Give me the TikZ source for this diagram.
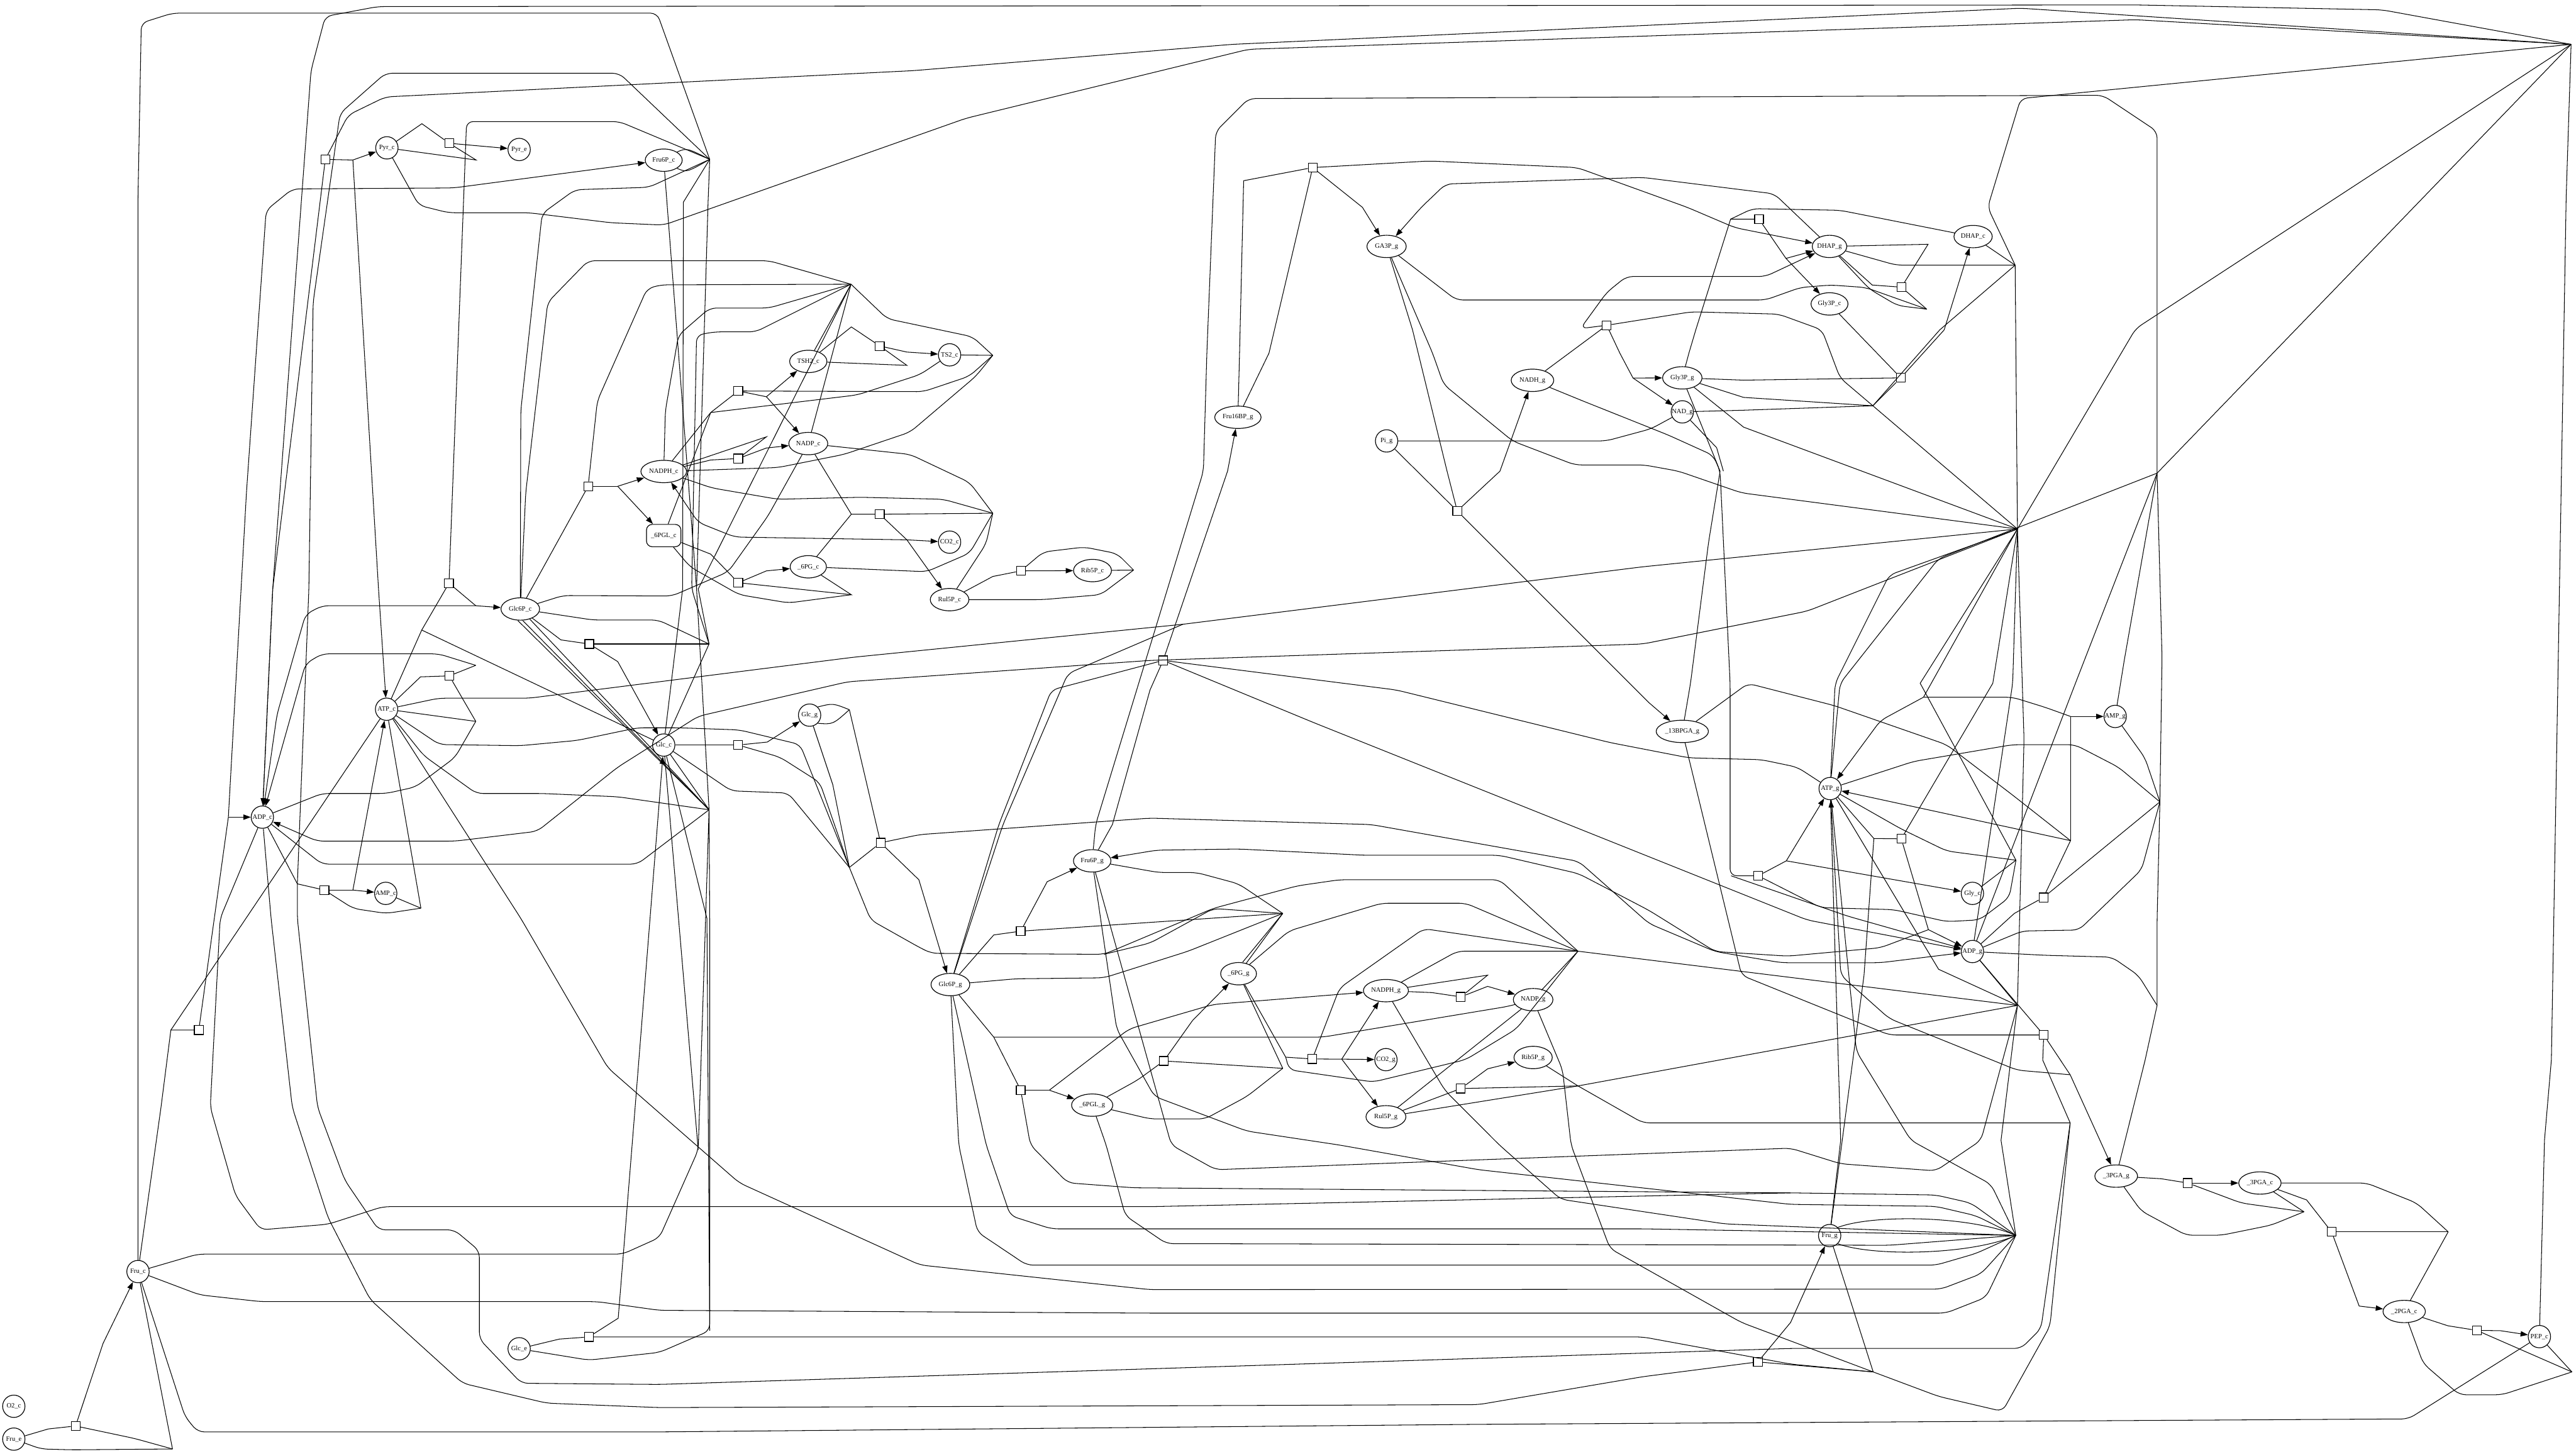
\documentclass[tikz,border=0pt]{standalone}
\usepackage{fontspec}
\setmainfont{Liberation Serif}
\usetikzlibrary{arrows.meta,shapes.geometric}
\newcommand\lab[1]{\makebox[0pt]{#1}}
\begin{document}
\begin{tikzpicture}[x=1mm,y=-1mm,
  sp/.style={draw,ellipse,line width=0.45mm,inner sep=0pt,minimum height=13.6mm,minimum width=#1,font=\fontsize{11.5}{13}\selectfont},
  sp/.default=13.6mm,
  rr/.style={draw,rounded corners=3.5mm,line width=0.45mm,inner sep=0pt,minimum height=13.6mm,minimum width=21mm,font=\fontsize{11.5}{13}\selectfont},
  rx/.style={draw,line width=0.45mm,minimum size=5.4mm,inner sep=0pt},
  e/.style={line width=0.4mm},
  ec/.style={line width=0.4mm,rounded corners=4mm},
  ar/.style={-{Triangle[length=4.5mm,width=3.2mm]}}]
\useasboundingbox (0,0) rectangle (1568,885);
% ---------- species: cytosol ----------
\node[sp] (Pyrc) at (235.5,90) {\lab{Pyr\_c}};
\node[sp] (Pyre) at (316,91) {\lab{Pyr\_e}};
\node[sp=22.5mm] (F6Pc) at (404,97.5) {\lab{Fru6P\_c}};
\node[sp=22.7mm] (TSH2c) at (492,220) {\lab{TSH2\_c}};
\node[sp] (TS2c) at (578,216) {\lab{TS2\_c}};
\node[sp=23.7mm] (NADPc) at (492,270) {\lab{NADP\_c}};
\node[sp=27.8mm] (NADPHc) at (404,287) {\lab{NADPH\_c}};
\node[rr] (PGLc) at (404,326) {\lab{\_6PGL\_c}};
\node[sp] (CO2c) at (578,330) {\lab{CO2\_c}};
\node[sp=22.1mm] (PGc) at (492,345) {\lab{\_6PG\_c}};
\node[sp=23.5mm] (Ru5Pc) at (578,365) {\lab{Rul5P\_c}};
\node[sp=23.1mm] (R5Pc) at (665,347.3) {\lab{Rib5P\_c}};
\node[sp=23.5mm] (G6Pc) at (316.7,370.7) {\lab{Glc6P\_c}};
\node[sp] (ATPc) at (235.3,431.7) {\lab{ATP\_c}};
\node[sp] (Glcc) at (404,453.5) {\lab{Glc\_c}};
\node[sp] (Glcg) at (492.8,435.3) {\lab{Glc\_g}};
\node[sp] (ADPc) at (159.7,497.4) {\lab{ADP\_c}};
\node[sp] (AMPc) at (234.8,543.8) {\lab{AMP\_c}};
\node[sp] (Fruc) at (84,774) {\lab{Fru\_c}};
\node[sp] (O2c) at (8.4,856) {\lab{O2\_c}};
\node[sp] (Frue) at (8.4,876) {\lab{Fru\_e}};
\node[sp] (Glce) at (316,821) {\lab{Glc\_e}};
% ---------- species: glycosome ----------
\node[sp=28.2mm] (F16BPg) at (753.5,254) {\lab{Fru16BP\_g}};
\node[sp] (Pig) at (844,268.4) {\lab{Pi\_g}};
\node[sp=23.9mm] (GA3Pg) at (844,150) {\lab{GA3P\_g}};
\node[sp=21mm] (DHAPg) at (1113.6,150) {\lab{DHAP\_g}};
\node[sp=23.3mm] (DHAPc) at (1201,144) {\lab{DHAP\_c}};
\node[sp=22.5mm] (Gly3Pc) at (1113.6,185) {\lab{Gly3P\_c}};
\node[sp=25.9mm] (NADHg) at (932.8,231.5) {\lab{NADH\_g}};
\node[sp=24mm] (Gly3Pg) at (1024,230) {\lab{Gly3P\_g}};
\node[sp] (NADg) at (1024,250.7) {\lab{NAD\_g}};
\node[sp=31.8mm] (BPGAg) at (1024,445.2) {\lab{\_13BPGA\_g}};
\node[sp] (ATPg) at (1114,480) {\lab{ATP\_g}};
\node[sp] (AMPg) at (1287.5,436.1) {\lab{AMP\_g}};
\node[sp] (Glyc) at (1200.6,543.8) {\lab{Gly\_c}};
\node[sp] (ADPg) at (1200.6,579.2) {\lab{ADP\_g}};
\node[sp=22.8mm] (F6Pg) at (664.8,524) {\lab{Fru6P\_g}};
\node[sp=23.6mm] (G6Pg) at (578.5,599.3) {\lab{Glc6P\_g}};
\node[sp=21.8mm] (PGg) at (753.9,592.7) {\lab{\_6PG\_g}};
\node[sp=27.4mm] (NADPHg) at (843.6,603) {\lab{NADPH\_g}};
\node[sp=24.1mm] (NADPg) at (933.2,608.5) {\lab{NADP\_g}};
\node[sp] (CO2g) at (843.6,645) {\lab{CO2\_g}};
\node[sp=23.3mm] (R5Pg) at (933.2,643.7) {\lab{Rib5P\_g}};
\node[sp=25.1mm] (PGLg) at (664.8,672.7) {\lab{\_6PGL\_g}};
\node[sp=24.3mm] (Ru5Pg) at (843.6,679.8) {\lab{Rul5P\_g}};
\node[sp] (Frug) at (1113.7,752.1) {\lab{Fru\_g}};
\node[sp=26mm] (PGA3g) at (1288.1,715.9) {\lab{\_3PGA\_g}};
\node[sp=25.8mm] (PGA3c) at (1375.6,720.1) {\lab{\_3PGA\_c}};
\node[sp=25.8mm] (PGA2c) at (1463.4,798.3) {\lab{\_2PGA\_c}};
\node[sp] (PEPc) at (1545.7,813.6) {\lab{PEP\_c}};
% ---------- reactions ----------
\node[rx] (sPK) at (198,97) {};
\node[rx] (sPyrT) at (273.4,87.2) {};
\node[rx] (sHK) at (273.3,355) {};
\node[rx] (sG6PDH) at (358,296) {};
\node[rx] (sTR) at (449.4,238) {};
\node[rx] (sTOx) at (535.5,210.6) {};
\node[rx] (sNOx) at (449.4,279.1) {};
\node[rx] (sPGD) at (535.5,313) {};
\node[rx] (sPGL) at (449.4,354.7) {};
\node[rx] (sRPI) at (621.4,347.5) {};
\node[rx] (sATPase) at (273.5,411.4) {};
\node[rx] (sG6Pase) at (358.7,392) {};
\node[rx] (sGlcTg) at (449.3,453.5) {};
\node[rx] (sAK) at (197.5,541.8) {};
\node[rx] (sHKf) at (121,627) {};
\node[rx] (sFruT) at (46,868) {};
\node[rx] (sGlcT) at (358.4,813.8) {};
\node[rx] (sALD) at (799,102) {};
\node[rx] (sShut) at (1070.7,133.4) {};
\node[rx] (sDHAPT) at (1157.4,174.8) {};
\node[rx] (sG3PDH) at (978,198) {};
\node[rx] (sGPO) at (1157,230) {};
\node[rx] (sGAPDH) at (887,311) {};
\node[rx] (sPFK) at (708,402) {};
\node[rx] (sHKg) at (536,513) {};
\node[rx] (sHKfg) at (1157.3,510.6) {};
\node[rx] (sGK) at (1070.2,533.1) {};
\node[rx] (sAKg) at (1243.8,546.3) {};
\node[rx] (sPGI) at (621.3,566.8) {};
\node[rx] (sPGK) at (1244,630) {};
\node[rx] (sPGLg) at (708.4,645.8) {};
\node[rx] (sPGDg) at (798.8,644.6) {};
\node[rx] (sG6PDHg) at (621.3,663.6) {};
\node[rx] (sNOxg) at (889.2,606.8) {};
\node[rx] (sRPIg) at (889.2,662.6) {};
\node[rx] (sPGAT) at (1331.7,720.1) {};
\node[rx] (sPGM) at (1419.2,749.8) {};
\node[rx] (sENO) at (1507.6,809.8) {};
\node[rx] (sFruTg) at (1070,829) {};
% ---------- junctions ----------
\coordinate (hA) at (432,97);
\coordinate (hN) at (518,173);
\coordinate (hR) at (604.3,216.3);
\coordinate (hS) at (604.3,312.4);
\coordinate (hG) at (431.6,492.9);
\coordinate (hG2) at (431.6,392);
\coordinate (hRib) at (690,347);
\coordinate (hK1) at (517,432);
\coordinate (hK2) at (517,528);
\coordinate (hF6) at (780.8,556);
\coordinate (hNg) at (960.5,579);
\coordinate (hRg) at (960.5,661);
\coordinate (hFg) at (1227,752);
\coordinate (hFT) at (1140.2,835.1);
\coordinate (hTR) at (1565,27);
\coordinate (h3) at (1314.7,488.1);
\coordinate (hDH) at (1226.6,161.4);
\coordinate (hDT) at (1172.8,188.2);
\coordinate (hX1) at (1228,322);
\coordinate (hX5) at (1313,288);
\coordinate (hY) at (1313,612);
\coordinate (hZ) at (1228,612);
\coordinate (hP) at (1490.2,749.8);
\coordinate (hE) at (1565.5,835.1);
\coordinate (h3b) at (1402.4,737.6);
\coordinate (hPGK) at (1260.1,683.5);
\coordinate (hW) at (1140,247);
\coordinate (hFru) at (105,882);
\coordinate (hAK) at (256.2,552.8);
% ================= edges: bottom left =================
\draw[e] (Frue) -- (29.4,869.8) -- (sFruT);
\draw[e,ar] (sFruT) -- (62.7,817.8) -- (Fruc);
\draw[ec] (sFruT) -- (81.9,875.6) -- (hFru);
\draw[ec] (Frue) -- (25,882) -- (44,882.5) -- (hFru);
\draw[e] (Fruc) -- (hFru);
\draw[e] (Glce) -- (340.5,815.1) -- (sGlcT);
\draw[e,ar] (sGlcT) -- (376.3,802.4) -- (386.6,674) -- (Glcc);
\draw[ec] (sGlcT) -- (401.4,813.8) -- (1000,813.8) -- (1089.9,830.3) -- (hFT);
\draw[ec] (Glce) -- (358.4,827.9) -- (401.4,823.2) -- (432,810) -- (432,560) -- (hG);
% Fru_c
\draw[ec] (Fruc) -- (84,120) -- (86,14) -- (105,8) -- (400,8) -- (hA);
\draw[e] (Fruc) -- (98,674) -- (104,627) -- (sHKf);
\draw[e] (sHKf) -- (139,497.4);
\draw[e,ar] (139,497.4) -- (ADPc);
\draw[ec,ar] (139,497.4) -- (150,300) -- (162,128) -- (178,115) -- (276,114.4) -- (F6Pc);
\draw[e] (ATPc) -- (104,627);
\draw[ec] (Fruc) -- (120.3,763.4) -- (378.9,763.4) -- (401.4,753.3) -- (425,700) -- (hG);
\draw[ec] (Fruc) -- (121.6,788.2) -- (158.7,792.3) -- (363.5,792.3) -- (401.4,797.6) -- (700,799.3) -- (1184.4,799.3) -- (1208.8,789.7) -- (hFg);
\draw[ec] (Fruc) -- (112.6,862.2) -- (120.3,871.6) -- (401.4,871.6) -- (900,867) -- (1466,863.7) -- (PEPc);
% ================= top left =================
\draw[e] (sPK) -- (214.8,97.4);
\draw[e,ar] (214.8,97.4) -- (Pyrc);
\draw[e,ar] (214.8,97.4) -- (230.4,358.5) -- (ATPc);
\draw[e,ar] (sPK) -- (166,358.5) -- (ADPc);
\draw[ec] (sPK) -- (212,70) -- (234.6,59) -- (556,43) -- (750,27) -- (1230,5) -- (hTR);
\draw[ec] (ADPc) -- (166,358.5) -- (189.3,43) -- (198,10) -- (230,4) -- (1300,3) -- (1450,6) -- (hTR);
\draw[e] (Pyrc) -- (256.8,75.3) -- (sPyrT);
\draw[e] (sPyrT) -- (289.8,97.4) -- (Pyrc);
\draw[e,ar] (sPyrT) -- (Pyre);
\draw[ec] (Pyrc) -- (255,125) -- (273,129.5) -- (322,129.5) -- (372,135.6) -- (404,137) -- (588,72) -- (760,30) -- (1300,12) -- (hTR);
\draw[ec] (181,538) -- (188,358.5) -- (190.6,184) -- (207,69) -- (234.6,44.6) -- (377,44.6) -- (hA);
\draw[ec] (sHK) -- (284,74) -- (377,74) -- (hA);
\draw[e] (F6Pc.north east) .. controls (418,90) .. (hA);
\draw[e] (F6Pc.south east) .. controls (418,105) .. (hA);
\draw[ec] (G6Pc) -- (317,250) -- (330,130) -- (350,115.5) -- (395,114) -- (hA);
\draw[e] (hA) -- (416,123) -- (415.5,358.5) -- (Glcc);
\draw[e] (hA) -- (431,123) -- (424,358.5) -- (hG);
\draw[e] (F6Pc) -- (424,358.5);
% NADP hub
\draw[e] (NADPc) -- (hN);
\draw[e] (TSH2c) -- (hN);
\draw[ec] (sG6PDH) -- (363.6,244) -- (393.8,175.8) -- (402,173.4) -- (hN);
\draw[ec] (NADPHc) -- (405,250) -- (413,204) -- (432,187.5) -- (468,187.5) -- (hN);
\draw[ec] (hG2) -- (421,358.5) -- (424,204) -- (435,202) -- (460,202) -- (hN);
\draw[ec] (G6Pc) -- (320,300) -- (333.4,184) -- (358,158.7) -- (468,158.7) -- (hN);
\draw[e] (hN) -- (425,358.5) -- (hG2);
% G6PDH
\draw[e] (G6Pc) -- (sG6PDH);
\draw[e] (sG6PDH) -- (376,296);
\draw[e,ar] (376,296) -- (NADPHc);
\draw[e,ar] (376,296) -- (PGLc);
\draw[ec] (G6Pc) -- (342.7,362.5) -- (409,362.8) -- (443.3,348) -- (467.5,314) -- (NADPc);
% trypanothione
\draw[e] (NADPHc) -- (432.6,251.1) -- (sTR);
\draw[e] (PGLc) -- (432.6,251.1);
\draw[e] (sTR) -- (466.5,241.5);
\draw[e,ar] (466.5,241.5) -- (TSH2c);
\draw[e,ar] (466.5,241.5) -- (NADPc);
\draw[ec] (432.6,251.1) -- (521.8,240.4) -- (560,228) -- (TS2c);
\draw[ec] (sTR) -- (562,238.4) -- (590,229) -- (hR);
\draw[e] (TS2c) -- (hR);
\draw[ec] (NADPHc) -- (473.5,284.6) -- (513.7,276.6) -- (554,263) -- (594,229) -- (hR);
\draw[ec] (hR) -- (592,205) -- (566,199.5) -- (540,194) -- (hN);
\draw[e] (TSH2c) -- (518.2,199) -- (sTOx);
\draw[e,ar] (sTOx) -- (552,214.3) -- (TS2c);
\draw[e] (sTOx) -- (552,222.4) -- (TSH2c);
\draw[e] (NADPHc) -- (466.5,265.9) -- (sNOx);
\draw[e] (NADPHc) -- (432.6,280) -- (sNOx);
\draw[e,ar] (sNOx) -- (466.5,272.7) -- (NADPc);
% hS
\draw[ec] (NADPHc) -- (433.3,297) -- (473.5,303.9) -- (523.8,302.7) -- (574.1,303.9) -- (hS);
\draw[ec] (NADPc) -- (554,276.6) -- (590.2,293.7) -- (hS);
\draw[e] (sPGD) -- (hS);
\draw[ec] (PGc) -- (564,348) -- (590.2,336.7) -- (hS);
\draw[ec] (Ru5Pc) -- (600.2,331) -- (hS);
% 6PGDH
\draw[e] (NADPc) -- (518.2,313) -- (sPGD);
\draw[e] (PGc) -- (518.2,313);
\draw[e] (sPGD) -- (552,328.6);
\draw[e,ar] (552,328.6) -- (Ru5Pc);
\draw[e,ar] (552,328.6) -- (CO2c);
\draw[ec,ar] (552,328.6) -- (447.3,326.9) -- (425,318) -- (NADPHc);
% 6PGL
\draw[e] (PGLc) -- (432.6,337.3) -- (sPGL);
\draw[e,ar] (sPGL) -- (466.5,347.5) -- (PGc);
\draw[e] (sPGL) -- (518.2,362) -- (PGc);
\draw[ec] (PGLc) -- (420,345) -- (450,362) -- (480,367) -- (518.2,362);
% RPI
\draw[e] (Ru5Pc) -- (604.3,350.9) -- (sRPI);
\draw[e,ar] (sRPI) -- (R5Pc);
\draw[ec] (sRPI) -- (635,336) -- (660,333) -- (680,337) -- (hRib);
\draw[e] (R5Pc) -- (hRib);
\draw[ec] (Ru5Pc) -- (634.5,365) -- (670,362) -- (hRib);
% ================= cytosol middle =================
\draw[e] (Glcc) -- (256.7,383.5);
\draw[e] (ATPc) -- (256.7,383.5) -- (sHK);
\draw[e] (sHK) -- (289.6,368.7);
\draw[e,ar] (289.6,368.7) -- (G6Pc);
\draw[ec,ar] (289.6,368.7) -- (196,368.7) -- (186,374) -- (168.6,435) -- (ADPc);
\draw[e] (ATPc) -- (256,412) -- (sATPase);
\draw[e] (sATPase) -- (289.6,405);
\draw[ec,ar] (289.6,405) -- (267,398) -- (196,398) -- (186,404) -- (ADPc);
\draw[e] (sATPase) -- (289.6,439.1);
\draw[e] (ATPc) -- (289.6,439.1);
\draw[ec] (289.6,439.1) -- (277,461) -- (253,479) -- (235,483) -- (196,483) -- (ADPc);
\draw[e] (G6Pc) -- (341.4,389.5) -- (sG6Pase);
\draw[e,ar] (sG6Pase) -- (376,402.7) -- (Glcc);
\draw[e] (sG6Pase) -- (hG2);
\draw[ec] (G6Pc) -- (361,377.4) -- (400.7,377.4) -- (hG2);
\draw[e] (hG2) -- (Glcc);
\draw[e] (G6Pc) -- (hG);
\draw[e] ([xshift=1.5mm]G6Pc.south) -- (hG);
\draw[e] ([xshift=-1.5mm]G6Pc.south) -- (hG);
\draw[ec] (ATPc) -- (267,425) -- (322,425) -- (520,400) -- (720,380) -- (1000,345) -- (hX1);
\draw[ec,ar] (hX1) -- (1100,372) -- (1000,392) -- (700,402) -- (516,415) -- (425,436) -- (376,467) -- (327,506) -- (277,512) -- (193,512) -- (ADPc);
\draw[ec] (ATPc) -- (258,460) -- (290,483) -- (330,483) -- (376,485) -- (hG);
\draw[ec] (hG) -- (388,526) -- (196,526) -- (ADPc);
\draw[ec] (ATPc) -- (267.4,453.2) -- (316.7,453.9) -- (351.3,450.7) -- (388,443) -- (413,443) -- (450,444.3) -- (487,453.2) -- (hK2);
\draw[ec] (ATPc) -- (317,559) -- (370,650) -- (450,720) -- (560,770) -- (700,785) -- (1181.4,784.7) -- (1205.8,775.4) -- (hFg);
% AK
\draw[e] (ADPc) -- (181,538) -- (sAK);
\draw[e] (sAK) -- (214.8,541.8);
\draw[e,ar] (214.8,541.8) -- (AMPc);
\draw[e,ar] (214.8,541.8) -- (ATPc);
\draw[ec] (sAK) -- (215,553) -- (235,556) -- (hAK);
\draw[e] (AMPc) -- (hAK);
\draw[e] (ATPc) -- (hAK);
\draw[ec] (ADPc) -- (134,559) -- (128,674) -- (143.4,727.8) -- (158.7,748.6) -- (199.7,745.2) -- (233,734.5) -- (700,734.5) -- (1089.9,726.1) -- (1178.3,727.4) -- (1199.7,732.3) -- (hFg);
\draw[ec] (ADPc) -- (165,559) -- (177.9,674) -- (199.7,741.2) -- (225.3,791) -- (281.6,842) -- (332.8,854.1) -- (401.4,856.8) -- (900,855) -- (1000,838) -- (sFruTg);
\draw[ec] (181,538) -- (181,559) -- (193.3,674) -- (209.9,718.4) -- (230.4,748.6) -- (276.5,748.6) -- (291.8,761.4) -- (291.8,815.1) -- (317.4,842) -- (401.4,842.7) -- (1089.9,820.8) -- (1230.2,820.8) -- (1242.3,808.8) -- (hPGK);
% Glc transport to glycosome
\draw[e] (Glcc) -- (sGlcTg);
\draw[e,ar] (sGlcTg) -- (467,451.7) -- (Glcg);
\draw[ec] (sGlcTg) -- (474.8,460.9) -- (499,476.3) -- (hK2);
\draw[ec] (Glcc) -- (445.1,481.4) -- (479.7,482.7) -- (hK2);
\draw[e] (Glcc) -- (413,559) -- (425,700);
\draw[e] (Glcc) -- (430.3,559) -- (432,810);
\draw[e] (Glcc) -- (hG);
\draw[e] (Glcg.north east) .. controls (507,428) .. (hK1);
\draw[e] (Glcg.south east) .. controls (507,441) .. (hK1);
\draw[e] (Glcg) -- (506.9,477.6) -- (hK2);
\draw[e] (hK1) -- (sHKg);
% ================= glycosome: hexose part =================
\draw[e] (hK2) -- (sHKg);
\draw[e,ar] (sHKg) -- (559.3,535.5) -- (G6Pg);
\draw[ec,ar] (sHKg) -- (560,508) -- (700,498) -- (834.6,501.9) -- (960.9,524.3) -- (1003.8,562.2) -- (1044,579.2) -- (1084.3,586) -- (1144.6,586) -- (ADPg);
\draw[e] (G6Pg) -- (604.9,569.1) -- (sPGI);
\draw[e,ar] (sPGI) -- (637.4,536.7) -- (F6Pg);
\draw[e] (sPGI) -- (hF6);
\draw[ec] (F6Pg) -- (705.3,531.1) -- (728.3,531.1) -- (753.9,538) -- (hF6);
\draw[e] (hF6) -- (PGg);
\draw[e] (hF6) -- ([xshift=2.5mm]PGg.north);
\draw[ec] (G6Pg) -- (618.2,595.8) -- (672,595.2) -- (723.2,579) -- (hF6);
\draw[ec] (hK2) -- (530,560) -- (559.3,576.5) -- (566.9,580.3) -- (672,580.9) -- (738.6,552.9) -- (789.8,539.2) -- (815.4,535.5) -- (912.7,535.5) -- (hNg);
\draw[ec] (672,580.9) -- (700.2,574) -- (738.6,553) -- (hF6);
% PFK
\draw[e] (F6Pg) -- (677.1,501.9) -- (700,420) -- (sPFK);
\draw[e,ar] (sPFK) -- (747.2,286.8) -- (F16BPg);
\draw[ec,ar] (sPFK) -- (800,440) -- (1100,560) -- (ADPg);
\draw[ec] (ATPg) -- (1094,467) -- (1072,462.4) -- (1028,461.3) -- (980,452) -- (850,420) -- (sPFK);
\draw[ec] (F6Pg) -- (666.9,501.9) -- (732.5,286.8) -- (734.6,215) -- (740,80) -- (760,60) -- (1280,58) -- (1313,80) -- (hX5);
\draw[ec] (G6Pg) -- (608,501.9) -- (640,420) -- (sPFK);
\draw[ec] (G6Pg) -- (610.5,501.9) -- (650,410) -- (720,380);
% ================= glycosome: triose part =================
\draw[e] (F16BPg) -- (772.4,215) -- (sALD);
\draw[e] (F16BPg) -- (754.5,215) -- (757,110) -- (sALD);
\draw[e,ar] (sALD) -- (829.3,126.2) -- (GA3Pg);
\draw[ec,ar] (sALD) -- (870,98) -- (960,102) -- (1027,126.2) -- (1056.1,138.6) -- (DHAPg);
\draw[ec,ar] (DHAPg) -- (1080,118) -- (1000,108) -- (880,112) -- (865.1,126.2) -- (GA3Pg);
\draw[e] (GA3Pg) -- (859.8,200.8) -- (880.8,286.8) -- (sGAPDH);
\draw[ec] (Pig) -- (977.6,268.4) -- (1005,261) -- (NADg);
\draw[e] (Pig) -- (sGAPDH);
\draw[e,ar] (sGAPDH) -- (913,286.8) -- (NADHg);
\draw[e,ar] (sGAPDH) -- (1003.8,427.8) -- (BPGAg);
\draw[ec] (GA3Pg) -- (872,215) -- (878.7,234) -- (920.8,268.5) -- (958.6,283) -- (1000.7,283) -- (1021.7,286.8) -- (1060,300) -- (hX1);
\draw[ec] (NADHg) -- (962.8,243.8) -- (1015.4,264.8) -- (1042.8,277.2) -- (1047,286.8);
\draw[ec] (BPGAg) -- (1029,415.9) -- (1040,330) -- (1047,286.8);
\draw[ec] (GA3Pg) -- (886.4,182.6) -- (1074.6,182.6) -- (1095.9,175) -- (1114.4,173.5) -- (1135.6,175) -- (hDT);
\draw[e] (NADHg) -- (sG3PDH);
\draw[e] (sG3PDH) -- (986,215) -- (994,230.1);
\draw[e,ar] (994,230.1) -- (Gly3Pg);
\draw[e,ar] (994,230.1) -- (NADg);
\draw[ec,ar] (sG3PDH) -- (962,200) -- (978,178) -- (990,168.3) -- (1074.6,168.3) -- (DHAPg);
\draw[ec] (sG3PDH) -- (1029.6,189.8) -- (1082.6,191.2) -- (1109,200.8) -- (1120,230) -- (hW);
\draw[e] (Gly3Pg) -- (1028,215) -- (1032.2,200.8) -- (1053.4,133.4) -- (sShut);
\draw[ec] (DHAPc) -- (1120,128) -- (1066.7,127) -- (1053.4,133.4);
\draw[e] (sShut) -- (1087.1,157.3);
\draw[e,ar] (1087.1,157.3) -- (Gly3Pc);
\draw[e,ar] (1087.1,157.3) -- (DHAPg);
\draw[e] (DHAPg) -- (1139.6,173.5) -- (sDHAPT);
\draw[e] (sDHAPT) -- (hDT);
\draw[ec] (DHAPg) -- (1138,176) -- (1155,186) -- (hDT);
\draw[e] (sDHAPT) -- (1173.6,148.7) -- (DHAPg);
\draw[ec] (DHAPg) -- (1154.2,161.4) -- (hDH);
\draw[e] (DHAPc) -- (hDH);
\draw[e] (hDH) -- (hX1);
\draw[e] (hDH) -- (1180.7,200.8) -- (hW);
\draw[ec] (hDH) -- (1209.9,126.2) -- (1230,60) -- (hTR);
\draw[e,ar] (sGPO) -- (1183.4,200.8) -- (DHAPc);
\draw[e] (sGPO) -- (hW);
\draw[e] (Gly3Pg) -- (1061.3,231.4) -- (sGPO);
\draw[e] (Gly3Pg) -- (1061.3,241.9) -- (hW);
\draw[e] (NADg) -- (1061.3,249.7) -- (hW);
\draw[e] (Gly3Pc) -- (sGPO);
\draw[e] (hW) -- (hX1);
\draw[ec] (Gly3Pg) -- (1047,286.8) -- (1053.1,415.9) -- (1053.1,533.1) -- (sGK);
\draw[e] (NADg) -- (1044.9,272.5) -- (1049,286.8);
\draw[e] (Gly3Pg) -- (1061.3,260) -- (hX1);
% GK
\draw[e] (sGK) -- (1087.3,524);
\draw[e,ar] (1087.3,524) -- (ATPg);
\draw[e,ar] (1087.3,524) -- (Glyc);
\draw[ec,ar] (1053.7,533.1) -- (1124.5,557.6) -- (ADPg);
\draw[ec] (sGK) -- (1108.4,552.5) -- (1152.7,553.7) -- (1184.9,561) -- (1205,559.9) -- (1223,546.3) -- (1227.1,523.6);
\draw[e] (Glyc) -- (1227.1,523.6);
\draw[ec] (ATPg) -- (1156.7,504.3) -- (1184.9,518) -- (1227.1,523.6);
\draw[e] (1227.1,523.6) -- (1168.8,415.9) -- (hX1);
% HK fructose glycosome
\draw[e] (ATPg) -- (1140.6,510.4) -- (sHKfg);
\draw[e] (Frug) -- (1134.6,593.7) -- (1140.6,510.4);
\draw[e] (sHKfg) -- (1173.8,565.9);
\draw[e,ar] (1173.8,565.9) -- (ADPg);
\draw[ec,ar] (1173.8,565.9) -- (1144.6,576.9) -- (1088.3,582) -- (1044,579.2) -- (1003.8,554.2) -- (960.9,531.8) -- (912.7,520.6) -- (830.8,520.6) -- (753.9,516.8) -- (704,517.5) -- (F6Pg);
\draw[e] (sHKfg) -- (1213,415.9) -- (hX1);
% AK glycosome
\draw[ec] (ATPg) -- (1164.8,463.5) -- (1225,453.3) -- (1263,453.3) -- (1289.5,467) -- (h3);
\draw[ec] (AMPg) -- (1305.6,461.3) -- (h3);
\draw[e] (h3) -- (sAKg);
\draw[ec] (h3) -- (1303.6,529.3) -- (1265.4,566.1) -- (1231,566.7) -- (ADPg);
\draw[e] (sAKg) -- (1226.1,556) -- (ADPg);
\draw[e] (sAKg) -- (1260.3,511.7);
\draw[e,ar] (1260.3,511.7) -- (ATPg);
\draw[e,ar] (1260.3,511.7) -- (1260.3,436.1) -- (AMPg);
\draw[ec] (1170.8,424.4) -- (1225,424.4) -- (1245,430.6) -- (1260.3,436.1);
\draw[ec,ar] (1170.8,424.4) -- (1144.6,438.6) -- (ATPg);
\draw[e] (hX1) -- (1170.8,424.4);
\draw[ec] (BPGAg) -- (1064,416) -- (1116.5,429.5) -- (1184.9,453.3) -- (1225.1,484) -- (1260.3,511.7);
\draw[e] (AMPg) -- (1293,402) -- (hX5);
\draw[ec] (ATPg) -- (1117,416) -- (1150,350) -- (hX1);
\draw[ec] (ATPg) -- (1120,416) -- (1180,340) -- (hX5);
\draw[ec] (ADPg) -- (1225.1,415.9) -- (hX1);
\draw[ec] (ADPg) -- (1263.3,415.9) -- (hX5);
% PGK
\draw[ec] (BPGAg) -- (1060.1,593.7) -- (1150,630) -- (sPGK);
\draw[e] (ADPg) -- (sPGK);
\draw[e] (sPGK) -- (1260.1,654.2);
\draw[e,ar] (1260.1,654.2) -- (PGA3g);
\draw[ec,ar] (1260.1,654.2) -- (1227.8,651.4) -- (1150,620) -- (1120.5,593.7) -- (ATPg);
\draw[e] (PGA3g) -- (1305.7,645.3) -- (hY);
\draw[e] (hPGK) -- (1243.4,645.3) -- (sPGK);
\draw[ec] (hRg) -- (1000,683.5) -- (hPGK);
\draw[ec] (hPGK) -- (1247.8,807.2) -- (1218.9,859.1) -- (1180,850) -- (hFT);
% ================= glycosome PPP =================
\draw[ec] (PGg) -- (784.7,566.6) -- (841,549.8) -- (892.2,549.8) -- (hNg);
\draw[ec] (NADPHg) -- (887.1,579) -- (hNg);
\draw[e] (NADPg) -- (938.3,602.7) -- (hNg);
\draw[ec] (sPGDg) -- (815.4,601.4) -- (866.6,565.3) -- (hNg);
\draw[ec] (782.6,643.5) -- (784.7,651.2) -- (835.9,658.6) -- (892.2,645) -- (923,626.3) -- (hNg);
\draw[ec] (604.9,631.3) -- (805.1,631.3) -- (917.8,612.6) -- (NADPg);
\draw[e] (G6Pg) -- (604.9,631.3) -- (sG6PDHg);
\draw[e] (sG6PDHg) -- (638.7,663.6);
\draw[e,ar] (638.7,663.6) -- (PGLg);
\draw[ec,ar] (638.7,663.6) -- (687.3,626.3) -- (738.5,611.4) -- (NADPHg);
\draw[ec] (sG6PDHg) -- (627.2,697) -- (650,720) -- (690,723) -- (1089.9,726.1);
\draw[ec] (PGLg) -- (692.5,657.4) -- (sPGLg);
\draw[e,ar] (sPGLg) -- (725.8,621.3) -- (PGg);
\draw[e] (sPGLg) -- (780.8,650.3);
\draw[ec] (PGLg) -- (700.2,681.1) -- (733.5,681.1) -- (759,667.4) -- (780.8,650.3);
\draw[e] (PGg) -- (780.8,650.3);
\draw[e] (PGg) -- (782.6,643.5) -- (sPGDg);
\draw[e] (sPGDg) -- (816.7,644.7);
\draw[e,ar] (816.7,644.7) -- (CO2g);
\draw[e,ar] (816.7,644.7) -- (NADPHg);
\draw[e,ar] (816.7,644.7) -- (Ru5Pg);
\draw[e] (NADPHg) -- (871.7,604.2) -- (sNOxg);
\draw[e,ar] (sNOxg) -- (905.5,600.4) -- (NADPg);
\draw[e] (NADPHg) -- (905.5,593.6) -- (sNOxg);
\draw[e] (Ru5Pg) -- (sRPIg);
\draw[e,ar] (sRPIg) -- (905.5,650.6) -- (R5Pg);
\draw[e] (sRPIg) -- (hRg);
\draw[e] (Ru5Pg) -- (hRg);
\draw[e] (R5Pg) -- (hRg);
\draw[e] (Ru5Pg) -- (NADPg);
\draw[ec] (NADPHg) -- (879.4,663.6) -- (912.7,697) -- (950,730) -- (1050,745) -- (hFg);
\draw[ec] (NADPg) -- (951.1,651.2) -- (956.3,697) -- (980,760) -- (1060,805) -- (hFT);
\draw[ec] (F6Pg) -- (679.7,626.3) -- (702.7,667.4) -- (759,688.5) -- (815.4,697) -- (900,712) -- (1089.9,733.1) -- (1178.3,734.3) -- (1202.7,740) -- (hFg);
\draw[ec] (F6Pg) -- (713,697) -- (740,712) -- (1089.9,698.9) -- (1120.4,708.4) -- (1178.3,712.7) -- (1205.8,694.1) -- (hZ);
\draw[ec] (G6Pg) -- (583.6,697) -- (595,750) -- (625,770.1) -- (1178.3,770.1) -- (1202.7,763) -- (hFg);
\draw[ec] (G6Pg) -- (600.3,697) -- (615,740) -- (640,748) -- (1000,748) -- (hFg);
\draw[ec] (PGLg) -- (673.3,697) -- (685,740) -- (710,757) -- (1150,758) -- (hFg);
% ================= Fru_g and 3PGA =================
\draw[e] (Frug.north east) .. controls (1140,739) and (1200,740) .. (hFg);
\draw[e] (Frug.south east) .. controls (1140,765) and (1200,764) .. (hFg);
\draw[e] (hFg) -- (1218,694.1) -- (hZ);
\draw[ec] (hFg) -- (1211.9,720.9) -- (1163.1,694.1) -- (1130,640) -- (ATPg);
\draw[e] (Frug) -- (1120.4,694.1) -- (ATPg);
\draw[e,ar] (sFruTg) -- (1089.9,805) -- (Frug);
\draw[e] (sFruTg) -- (hFT);
\draw[e] (Frug) -- (hFT);
\draw[e] (PGA3g) -- (1315.5,717.5) -- (sPGAT);
\draw[e,ar] (sPGAT) -- (PGA3c);
\draw[ec] (sPGAT) -- (1364.3,732.3) -- (h3b);
\draw[e] (PGA3c) -- (h3b);
\draw[ec] (PGA3g) -- (1303.3,737.1) -- (1330.8,751.9) -- (1352.1,751.9) -- (1382.6,745.7) -- (h3b);
\draw[e] (PGA3c) -- (1404,730.4) -- (sPGM);
\draw[e,ar] (sPGM) -- (1436,795) -- (PGA2c);
\draw[e] (sPGM) -- (hP);
\draw[ec] (PGA3c) -- (1440.5,720.1) -- (1471,732.3) -- (hP);
\draw[e] (PGA2c) -- (hP);
\draw[e] (PGA2c) -- (1490,807) -- (sENO);
\draw[e,ar] (sENO) -- (1522,810) -- (PEPc);
\draw[e] (sENO) -- (hE);
\draw[e] (PEPc) -- (hE);
\draw[ec] (PGA2c) -- (1475,830) -- (1497,849) -- (1523,849) -- (hE);
\draw[e] (PEPc) -- (1548.8,694) -- (1553,645) -- (1562,120) -- (hTR);
% ================= right column =================
\draw[e] (hX5) -- (hTR);
\draw[ec] (hX1) -- (1300,200) -- (hTR);
\draw[ec] (hX5) -- (1316,400) -- (h3);
\draw[ec] (h3) -- (1313,560) -- (hY);
\draw[ec] (ADPg) -- (1245.2,581.5) -- (1285.5,582.6) -- (1301.6,593.7) -- (hY);
\draw[e] (ATPg) -- (1180,590) -- (hZ);
\draw[e] (ADPg) -- (hZ);
\draw[ec] (hZ) -- (1232,450) -- (hX1);
\draw[e] (hNg) -- (hZ);
\draw[e] (hRg) -- (hZ);
\end{tikzpicture}
\end{document}
